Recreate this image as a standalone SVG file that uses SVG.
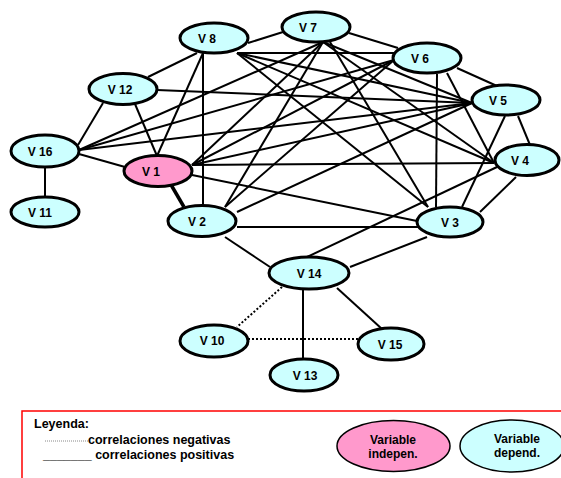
<svg xmlns="http://www.w3.org/2000/svg" width="561" height="478" viewBox="0 0 561 478">
<style>
.n ellipse{fill:#CCFFFF;stroke:#000;stroke-width:3}
.n.ind ellipse{fill:#FF99CC}
.n text,.lg text{font-family:"Liberation Sans",Arial,sans-serif;font-weight:bold;font-size:12px;fill:#000;text-anchor:middle}
#edges line{stroke:#000;stroke-width:2}
#edges line.neg{stroke-dasharray:2,2}
#edges line.thick{stroke-width:3.5}
.lg text.l{text-anchor:start;font-size:12.5px}
</style>
<rect width="561" height="478" fill="#fff"/>
<g id="edges">
<line x1="148" y1="77" x2="197" y2="53"/>
<line x1="248" y1="43" x2="283" y2="32"/>
<line x1="237" y1="53" x2="394" y2="53"/>
<line x1="237" y1="53" x2="472" y2="103"/>
<line x1="237" y1="53" x2="494" y2="163"/>
<line x1="237" y1="53" x2="428" y2="207"/>
<line x1="203" y1="53" x2="157" y2="156"/>
<line x1="203" y1="53" x2="203" y2="206"/>
<line x1="349" y1="33" x2="398" y2="48"/>
<line x1="323" y1="42" x2="472" y2="103"/>
<line x1="323" y1="42" x2="494" y2="163"/>
<line x1="330" y1="42" x2="428" y2="207"/>
<line x1="323" y1="42" x2="192" y2="165"/>
<line x1="323" y1="42" x2="225" y2="207"/>
<line x1="323" y1="42" x2="79" y2="150"/>
<line x1="457" y1="68" x2="497" y2="86"/>
<line x1="447" y1="73" x2="494" y2="163"/>
<line x1="437" y1="74" x2="436" y2="207"/>
<line x1="394" y1="60" x2="192" y2="165"/>
<line x1="394" y1="60" x2="225" y2="207"/>
<line x1="394" y1="60" x2="79" y2="150"/>
<line x1="518" y1="116" x2="530" y2="145"/>
<line x1="505" y1="116" x2="462" y2="207"/>
<line x1="472" y1="103" x2="157" y2="90"/>
<line x1="472" y1="103" x2="79" y2="150"/>
<line x1="472" y1="103" x2="192" y2="165"/>
<line x1="472" y1="103" x2="237" y2="212"/>
<line x1="494" y1="163" x2="192" y2="165"/>
<line x1="516" y1="177" x2="480" y2="212"/>
<line x1="497" y1="167" x2="307" y2="257"/>
<line x1="417" y1="221" x2="192" y2="175"/>
<line x1="418" y1="227" x2="237" y2="227"/>
<line x1="427" y1="237" x2="350" y2="267"/>
<line x1="103" y1="103" x2="78" y2="145"/>
<line x1="135" y1="104" x2="157" y2="156"/>
<line x1="79" y1="154" x2="125" y2="167"/>
<line x1="45" y1="167" x2="45" y2="197"/>
<line class="thick" x1="170" y1="183" x2="184" y2="207"/>
<line x1="225" y1="237" x2="270" y2="267"/>
<line x1="303" y1="289" x2="303" y2="359"/>
<line x1="337" y1="288" x2="382" y2="329"/>
<line class="neg" x1="282" y1="287" x2="237" y2="327"/>
<line class="neg" x1="248" y1="339" x2="360" y2="339"/>
</g>
<g id="V8" class="n"><ellipse cx="214" cy="38" rx="34" ry="15"/><text x="207" y="43">V 8</text></g>
<g id="V7" class="n"><ellipse cx="316" cy="27" rx="34" ry="15"/><text x="308" y="32">V 7</text></g>
<g id="V6" class="n"><ellipse cx="427" cy="58" rx="34" ry="15"/><text x="420" y="63">V 6</text></g>
<g id="V5" class="n"><ellipse cx="506" cy="100" rx="34" ry="15"/><text x="498" y="105">V 5</text></g>
<g id="V4" class="n"><ellipse cx="527" cy="160" rx="32" ry="15.5"/><text x="520" y="165">V 4</text></g>
<g id="V3" class="n"><ellipse cx="450" cy="222" rx="33" ry="15"/><text x="450" y="227">V 3</text></g>
<g id="V12" class="n"><ellipse cx="123" cy="89" rx="34" ry="15.5"/><text x="120" y="94">V 12</text></g>
<g id="V16" class="n"><ellipse cx="45" cy="151" rx="34" ry="16"/><text x="40" y="156">V 16</text></g>
<g id="V1" class="n ind"><ellipse cx="158" cy="171" rx="34" ry="15.5"/><text x="151" y="176">V 1</text></g>
<g id="V11" class="n"><ellipse cx="45" cy="212" rx="34" ry="15"/><text x="40" y="217">V 11</text></g>
<g id="V2" class="n"><ellipse cx="202" cy="221" rx="34" ry="15.5"/><text x="197" y="226">V 2</text></g>
<g id="V14" class="n"><ellipse cx="309" cy="273" rx="40" ry="16"/><text x="309" y="278">V 14</text></g>
<g id="V10" class="n"><ellipse cx="214" cy="341" rx="34" ry="16"/><text x="212" y="345">V 10</text></g>
<g id="V15" class="n"><ellipse cx="391" cy="344" rx="33" ry="16"/><text x="390" y="349">V 15</text></g>
<g id="V13" class="n"><ellipse cx="304" cy="375" rx="34" ry="16"/><text x="305" y="380">V 13</text></g>
<g id="legend" class="lg">
<rect x="22" y="411" width="560" height="80" fill="none" stroke="#FF0000" stroke-width="1.5"/>
<text class="l" x="34" y="428">Leyenda:</text>
<line x1="45" y1="441" x2="88" y2="441" stroke="#888" stroke-width="1" stroke-dasharray="1,1"/>
<text class="l" x="88" y="444">correlaciones negativas</text>
<text class="l" x="43" y="459">_______ correlaciones positivas</text>
<ellipse cx="393.5" cy="446" rx="56.5" ry="25.5" fill="#FF99CC" stroke="#000" stroke-width="1.5"/>
<text x="393" y="444">Variable</text>
<text x="393" y="458">indepen.</text>
<ellipse cx="512" cy="446" rx="52" ry="26" fill="#CCFFFF" stroke="#000" stroke-width="1.5"/>
<text x="517" y="443">Variable</text>
<text x="517" y="457">depend.</text>
</g>
</svg>
